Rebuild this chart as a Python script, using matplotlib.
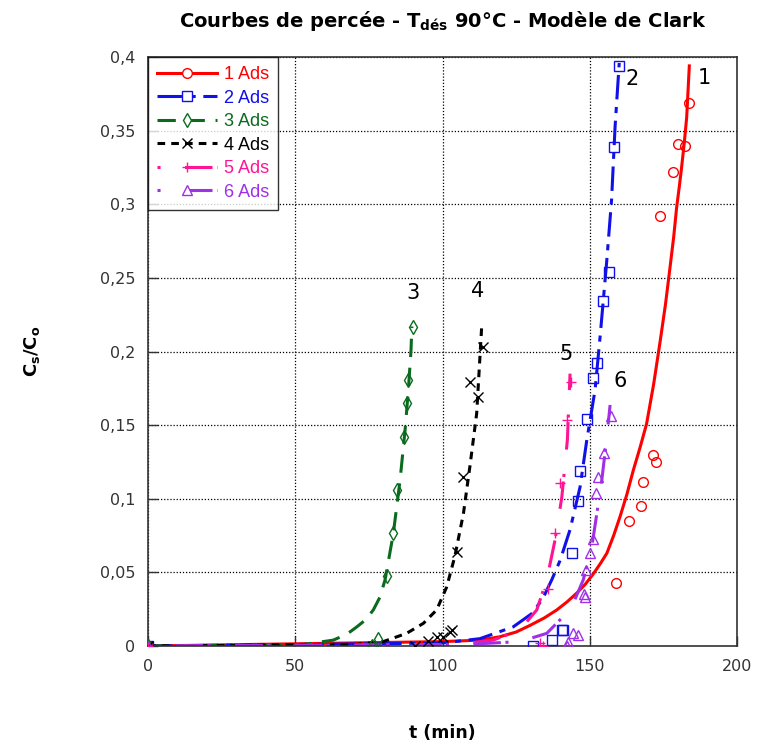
import numpy as np
import matplotlib
matplotlib.use("Agg")
from matplotlib import pyplot as plt

plt.rcParams['font.family'] = ['DejaVu Sans']

# Measured points (t in min, Cs/Co)
t1 = [0, 158.8, 163.3, 167.3, 168.2, 171.3, 172.4, 173.9, 178.2, 180.1, 182.3, 183.8]
c1 = [0, 0.0426, 0.0849, 0.0953, 0.1116, 0.1297, 0.125, 0.292, 0.322, 0.3407, 0.3396, 0.369]
t2 = [0, 130.8, 137.1, 140.5, 141.0, 143.9, 146.1, 146.7, 149.0, 151.0, 152.6, 154.6, 156.6, 158.3, 160.0]
c2 = [0, 0.0, 0.004, 0.011, 0.011, 0.063, 0.0985, 0.119, 0.154, 0.182, 0.192, 0.2345, 0.254, 0.339, 0.394]
t3 = [0, 76.0, 78.0, 81.0, 83.1, 84.7, 87.0, 87.8, 88.2, 89.9]
c3 = [0, 0.0, 0.0045, 0.0475, 0.077, 0.106, 0.142, 0.165, 0.181, 0.2164]
t4 = [0, 90.7, 95.2, 98.0, 100.3, 102.5, 103.1, 104.8, 107.1, 109.3, 112.2, 113.6]
c4 = [0, 0.0, 0.0036, 0.0063, 0.0063, 0.0097, 0.011, 0.064, 0.115, 0.1795, 0.169, 0.203]
t5 = [0, 133.1, 134.0, 135.9, 138.2, 139.9, 142.4, 143.6]
c5 = [0, 0.002, 0.0, 0.039, 0.0765, 0.111, 0.1535, 0.1795]
t6 = [0, 142.2, 142.7, 144.4, 146.1, 148.1, 148.4, 148.7, 150.1, 151.2, 152.1, 152.9, 154.9, 157.2]
c6 = [0, 0.0, 0.003, 0.009, 0.0075, 0.035, 0.0335, 0.0516, 0.063, 0.0725, 0.1037, 0.115, 0.131, 0.156]

# Clark model curves
f1_t = [0, 100, 112.7, 119.5, 125.0, 129.7, 134.5, 138.8, 142.3, 145.6, 148.5, 151.2, 153.6, 155.8,
        158.1, 160.3, 162.6, 164.8, 167.1, 169.3, 171.7, 173.9, 175.7, 177.3, 178.5, 179.5, 180.4,
        181.2, 182.1, 182.9, 183.8]
f1_c = [0, 0.003, 0.004, 0.0063, 0.0095, 0.014, 0.019, 0.0245, 0.030, 0.036, 0.042, 0.049, 0.056, 0.063,
        0.075, 0.088, 0.103, 0.1195, 0.135, 0.151, 0.178, 0.207, 0.232, 0.258, 0.278, 0.298, 0.312,
        0.3255, 0.342, 0.359, 0.394]
f2_t = [0, 100, 112.7, 124.0, 130.3, 134.0, 137.1, 139.9, 143.3, 146.7, 149.0, 151.8, 153.5, 155.7, 157.4, 158.6, 160.0]
f2_c = [0, 0.002, 0.005, 0.013, 0.022, 0.032, 0.045, 0.058, 0.079, 0.108, 0.14, 0.174, 0.21, 0.26, 0.303, 0.353, 0.396]
f3_t = [0, 51.6, 62.9, 67.5, 70.9, 74.0, 76.5, 78.7, 80.5, 83.3, 85.6, 87.3, 88.4, 89.3, 89.6]
f3_c = [0, 0.0007, 0.004, 0.008, 0.013, 0.018, 0.0245, 0.033, 0.045, 0.0765, 0.113, 0.147, 0.174, 0.201, 0.217]
f4_t = [0, 70, 79.9, 87.8, 93.5, 98.0, 101.4, 104.2, 107.1, 109.3, 111.6, 113.3]
f4_c = [0, 0.001, 0.003, 0.0086, 0.0154, 0.0245, 0.040, 0.061, 0.09, 0.122, 0.158, 0.217]
f5_t = [0, 105, 117.2, 126.3, 132.0, 135.4, 138.2, 140.5, 142.4, 143.3]
f5_c = [0, 0.001, 0.004, 0.011, 0.0245, 0.045, 0.072, 0.101, 0.14, 0.185]
f6_t = [0, 105, 115, 126.3, 135.4, 141.0, 144.4, 147.8, 150.7, 152.4, 154.1, 155.7, 156.9]
f6_c = [0, 0.001, 0.0018, 0.003, 0.0086, 0.02, 0.029, 0.045, 0.0674, 0.09, 0.113, 0.14, 0.1637]

names = ['1 Ads', '2 Ads', '3 Ads', '4 Ads', '5 Ads', '6 Ads']
colors = ['#ff0000', '#1010e8', '#0a6b1e', '#000000', '#ff1493', '#a030e8']
markers = ['o', 's', 'd', 'x', '+', '^']
dashes = [None, (8, 2.5, 2, 2.5), (6, 3.5), (2.5, 2), (1, 8, 9, 1.5), (1, 8, 9, 1.5)]
labels_txt = ['1', '2', '3', '4', '5', '6']
labels_pos = [(188.8, 0.386), (164.3, 0.385), (90.0, 0.24), (112.0, 0.241), (142.0, 0.198), (160.3, 0.18)]

yticks = [0, 0.05, 0.1, 0.15, 0.2, 0.25, 0.3, 0.35, 0.4]
yticklabels = ['0', '0,05', '0,1', '0,15', '0,2', '0,25', '0,3', '0,35', '0,4']
xticks = [0, 50, 100, 150, 200]

pts = [(t1, c1), (t2, c2), (t3, c3), (t4, c4), (t5, c5), (t6, c6)]
fits = [(f1_t, f1_c), (f2_t, f2_c), (f3_t, f3_c), (f4_t, f4_c), (f5_t, f5_c), (f6_t, f6_c)]

fig = plt.figure(figsize=(7.61, 7.51), dpi=100)
ax = fig.add_axes([0.1945, 0.1398, 0.774, 0.7842])

handles = []
for i in range(6):
    ms = 7
    ax.plot(pts[i][0], pts[i][1], linestyle='none', marker=markers[i], mfc='none',
            mec=colors[i], ms=ms, mew=1.0, zorder=3)
    ln, = ax.plot(fits[i][0], fits[i][1], color=colors[i], lw=2.2, zorder=2)
    if dashes[i] is not None:
        ln.set_dashes(dashes[i])
    h, = ax.plot([], [], color=colors[i], lw=2.2, marker=markers[i], mfc='white',
                 mec=colors[i], ms=ms, mew=1.0)
    if dashes[i] is not None:
        h.set_dashes(dashes[i])
    handles.append(h)

for txt, (x, y) in zip(labels_txt, labels_pos):
    ax.text(x, y, txt, fontsize=15, ha='center', va='center')

ax.set_xlim(0, 200)
ax.set_ylim(0, 0.4)
ax.set_xticks(xticks)
ax.set_yticks(yticks)
ax.set_yticklabels(yticklabels)
ax.tick_params(direction='in', length=7, width=1, labelsize=11.5, pad=9, colors='#333333')
ax.grid(True, linestyle=(0, (1, 1.5)), color='black', lw=0.9)
for s in ax.spines.values():
    s.set_color('#333333')
    s.set_linewidth(1.2)

leg = ax.legend(handles, names, loc='upper left', frameon=True, fancybox=False,
                prop={'family': 'Liberation Sans', 'size': 13},
                borderaxespad=0, handlelength=3.3, handletextpad=0.4, labelspacing=0.36,
                borderpad=0.5)
leg.get_frame().set_edgecolor('black')
leg.get_frame().set_linewidth(1.0)
for txt, c in zip(leg.get_texts(), colors):
    txt.set_color(c)

fig.text(0.5815, 0.972, 'Courbes de percée - T$_{\\mathregular{dés}}$ 90°C - Modèle de Clark',
         ha='center', va='center', fontsize=14, fontweight='bold')
ax.set_xlabel('t (min)', fontsize=12.5, fontweight='bold', labelpad=36)
ax.set_ylabel('C$_{\\mathregular{s}}$/C$_{\\mathregular{o}}$', fontsize=13, fontweight='bold', labelpad=42)

plt.savefig('out.png', dpi=100)
